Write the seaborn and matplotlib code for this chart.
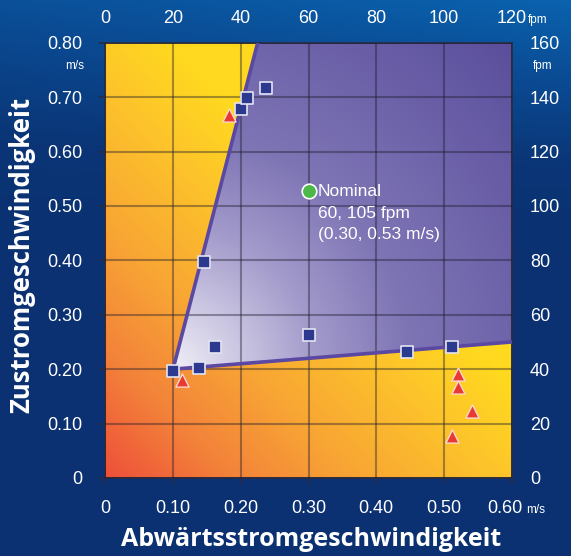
import numpy as np
import pandas as pd
import matplotlib
matplotlib.use("Agg")
import matplotlib.pyplot as plt
import seaborn as sns
from matplotlib.colors import LinearSegmentedColormap
from matplotlib.patches import Polygon
from matplotlib.transforms import ScaledTranslation

plt.rcParams['font.family'] = ['Liberation Sans', 'DejaVu Sans']

# ---- data ----
sq_x = [0.100, 0.138, 0.162, 0.146, 0.301, 0.446, 0.512, 0.201, 0.209, 0.237]
sq_y = [0.197, 0.203, 0.240, 0.397, 0.262, 0.231, 0.240, 0.678, 0.698, 0.716]
tri_x = [0.113, 0.182, 0.521, 0.521, 0.542, 0.512]
tri_y = [0.180, 0.667, 0.191, 0.167, 0.123, 0.077]
nom_x = [0.301]
nom_y = [0.527]
edge_x = [0.225, 0.100, 0.600]
edge_y = [0.800, 0.200, 0.250]
region_x = [0.100, 0.225, 0.600, 0.600]
region_y = [0.200, 0.800, 0.800, 0.250]
x_ticks = [0, 0.1, 0.2, 0.3, 0.4, 0.5, 0.6]
x_labels = ["0", "0.10", "0.20", "0.30", "0.40", "0.50", "0.60"]
top_labels = ["0", "20", "40", "60", "80", "100", "120"]
y_ticks = [0, 0.1, 0.2, 0.3, 0.4, 0.5, 0.6, 0.7, 0.8]
y_labels = ["0", "0.10", "0.20", "0.30", "0.40", "0.50", "0.60", "0.70", "0.80"]
right_labels = ["0", "20", "40", "60", "80", "100", "120", "140", "160"]
nominal_lines = ["Nominal", "60, 105 fpm", "(0.30, 0.53 m/s)"]

W, H = 571, 556
fig = plt.figure(figsize=(W / 100, H / 100), dpi=100)

# figure background gradient
bg = fig.add_axes([0, 0, 1, 1], zorder=-5)
bg.set_axis_off()
yy, xx = np.mgrid[0:1:200j, 0:1:200j]
bg_cmap = LinearSegmentedColormap.from_list(
    "bg", ["#0b3172", "#0a3576", "#0a4a92", "#0a62ae"])
v = np.clip((yy - 0.55) / 0.45, 0, 1) * (0.75 + 0.25 * xx)
bg.imshow(v, cmap=bg_cmap, origin="lower", extent=[0, 1, 0, 1],
          aspect="auto", vmin=0, vmax=1)
bg.set_xlim(0, 1); bg.set_ylim(0, 1)

L, R, T, B = 105.3, 511.7, 42.7, 478.0
ax = fig.add_axes([L / W, 1 - B / H, (R - L) / W, (B - T) / H])
ax.set_xlim(0, 0.6)
ax.set_ylim(0, 0.8)

# orange/yellow gradient in plot area
gx, gy = np.meshgrid(np.linspace(0, 0.6, 300), np.linspace(0, 0.8, 300))
s = np.clip(((gx / 0.6) * 406 + (gy / 0.8) * 435) / 500, 0, 1)
or_cmap = LinearSegmentedColormap.from_list(
    "or", [(0, "#ee5039"), (0.25, "#f3823a"), (0.5, "#f8a534"),
           (0.8, "#fdc52a"), (1.0, "#ffd91f")])
ax.imshow(s, cmap=or_cmap, origin="lower", extent=[0, 0.6, 0, 0.8],
          aspect="auto", vmin=0, vmax=1, zorder=0)

# purple gradient region
dx = (gx - 0.10) / 0.6 * 406
dy = (gy - 0.20) / 0.8 * 435
d = np.clip(np.sqrt(dx ** 2 + dy ** 2) / 470, 0, 1)
pu_cmap = LinearSegmentedColormap.from_list(
    "pu", [(0, "#f0eef7"), (0.3, "#a39bcb"), (0.5, "#7e75b5"),
           (1.0, "#5a4e9c")])
im = ax.imshow(d, cmap=pu_cmap, origin="lower", extent=[0, 0.6, 0, 0.8],
               aspect="auto", vmin=0, vmax=1, zorder=0.5)
poly = Polygon(list(zip(region_x, region_y)), closed=True,
               transform=ax.transData, facecolor="none", edgecolor="none")
ax.add_patch(poly)
im.set_clip_path(poly)

# grid
ax.set_axisbelow(False)
ax.set_xticks(x_ticks)
ax.set_yticks(y_ticks)
ax.grid(True, color="#1a1a2a", alpha=0.4, linewidth=1.5, zorder=1)

# boundary lines
sns.lineplot(x=edge_x, y=edge_y, sort=False, estimator=None, ax=ax,
             color="#5a48a2", linewidth=2.6, zorder=3)

# markers
sns.scatterplot(x=sq_x, y=sq_y, ax=ax, marker="s", s=80, color="#2b3a8f",
                edgecolor="#e4e4f2", linewidth=1.2, zorder=5)
sns.scatterplot(x=tri_x, y=tri_y, ax=ax, marker="^", s=90, color="#e83a33",
                edgecolor="#fbd6cc", linewidth=1.0, zorder=5)
sns.scatterplot(x=nom_x, y=nom_y, ax=ax, marker="o", s=110, color="#4cb848",
                edgecolor="white", linewidth=1.2, zorder=5)

for i, (line, yv) in enumerate(zip(nominal_lines, [0.527, 0.487, 0.447])):
    ax.text(0.3136, yv, line, color="white", fontsize=12.5, va="center",
            ha="left", zorder=6)

# axes styling
for sp in ax.spines.values():
    sp.set_color("#2a2a40")
    sp.set_linewidth(1.2)
ax.set_xticklabels(x_labels)
ax.set_yticklabels(y_labels)
ax.tick_params(axis="both", direction="out", length=4.5, width=1.2,
               color="#2a2a40", labelcolor="white", labelsize=13)
ax.tick_params(axis="x", pad=11)
ax.tick_params(axis="y", pad=12)
lbl = ax.get_xticklabels()[-1]
lbl.set_transform(lbl.get_transform() + ScaledTranslation(-0.07, 0, fig.dpi_scale_trans))
ax.set_xlabel("")
ax.set_ylabel("")

top = ax.secondary_xaxis("top")
top.set_xticks(x_ticks)
top.set_xticklabels(top_labels)
top.tick_params(length=0, labelcolor="white", labelsize=13, pad=11)
top.spines["top"].set_visible(False)

right = ax.secondary_yaxis("right")
right.set_yticks(y_ticks)
right.set_yticklabels(right_labels)
right.tick_params(length=0, labelcolor="white", labelsize=13, pad=13)
right.spines["right"].set_visible(False)

# unit texts
fig.text(536 / W, 1 - 510 / H, "m/s", color="white", fontsize=8.5, ha="center", va="center")
fig.text(538 / W, 1 - 20 / H, "fpm", color="white", fontsize=8.5, ha="center", va="center")
fig.text(75 / W, 1 - 66 / H, "m/s", color="white", fontsize=8.5, ha="center", va="center")
fig.text(543 / W, 1 - 66 / H, "fpm", color="white", fontsize=8.5, ha="center", va="center")

# axis titles
fig.text(311 / W, 1 - 539 / H, "Abwärtsstromgeschwindigkeit", color="white",
         fontsize=18, fontweight="bold", family=["Open Sans", "DejaVu Sans"],
         ha="center", va="center")
fig.text(22 / W, 1 - 255 / H, "Zustromgeschwindigkeit", color="white",
         fontsize=18.5, fontweight="bold", family=["Open Sans", "DejaVu Sans"],
         ha="center", va="center", rotation=90)

fig.savefig("out.png", dpi=100)
